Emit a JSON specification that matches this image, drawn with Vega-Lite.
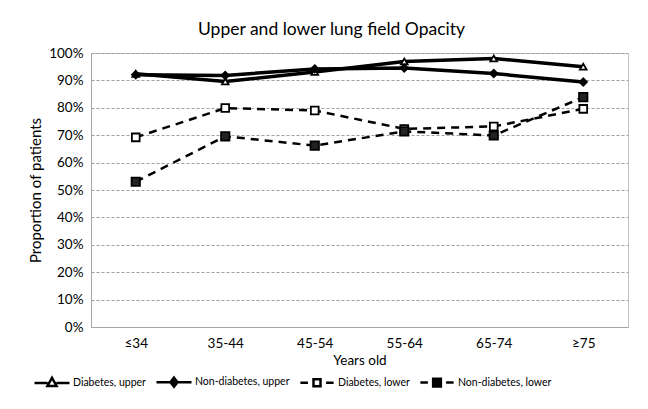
{
  "$schema": "https://vega.github.io/schema/vega-lite/v6.json",
  "width": 537,
  "height": 274,
  "autosize": {"type": "none"},
  "padding": {"left": 91, "top": 53, "right": 20, "bottom": 82},
  "background": "white",
  "title": {"text": "Upper and lower lung field Opacity", "font": "Lato", "fontSize": 17.5, "fontWeight": "normal", "color": "black", "dx": -28, "offset": 8},
  "config": {
    "font": "Lato",
    "view": {"stroke": "#C4C4C4", "strokeWidth": 1},
    "axis": {"labelFont": "Lato", "titleFont": "Lato", "labelColor": "black", "titleColor": "black", "titleFontWeight": "normal"}
  },
  "data": {"values": [
    {"age": "≤34", "series": "Diabetes, upper", "value": 0.924},
    {"age": "35-44", "series": "Diabetes, upper", "value": 0.896},
    {"age": "45-54", "series": "Diabetes, upper", "value": 0.931},
    {"age": "55-64", "series": "Diabetes, upper", "value": 0.969},
    {"age": "65-74", "series": "Diabetes, upper", "value": 0.98},
    {"age": "≥75", "series": "Diabetes, upper", "value": 0.95},
    {"age": "≤34", "series": "Non-diabetes, upper", "value": 0.921},
    {"age": "35-44", "series": "Non-diabetes, upper", "value": 0.918},
    {"age": "45-54", "series": "Non-diabetes, upper", "value": 0.942},
    {"age": "55-64", "series": "Non-diabetes, upper", "value": 0.945},
    {"age": "65-74", "series": "Non-diabetes, upper", "value": 0.925},
    {"age": "≥75", "series": "Non-diabetes, upper", "value": 0.894},
    {"age": "≤34", "series": "Diabetes, lower", "value": 0.692},
    {"age": "35-44", "series": "Diabetes, lower", "value": 0.799},
    {"age": "45-54", "series": "Diabetes, lower", "value": 0.79},
    {"age": "55-64", "series": "Diabetes, lower", "value": 0.723},
    {"age": "65-74", "series": "Diabetes, lower", "value": 0.732},
    {"age": "≥75", "series": "Diabetes, lower", "value": 0.796},
    {"age": "≤34", "series": "Non-diabetes, lower", "value": 0.53},
    {"age": "35-44", "series": "Non-diabetes, lower", "value": 0.696},
    {"age": "45-54", "series": "Non-diabetes, lower", "value": 0.662},
    {"age": "55-64", "series": "Non-diabetes, lower", "value": 0.714},
    {"age": "65-74", "series": "Non-diabetes, lower", "value": 0.699},
    {"age": "≥75", "series": "Non-diabetes, lower", "value": 0.839}
  ]},
  "encoding": {
    "x": {"field": "age", "type": "ordinal", "sort": ["≤34", "35-44", "45-54", "55-64", "65-74", "≥75"],
      "scale": {"type": "point", "padding": 0.5},
      "axis": {"title": "Years old", "labelAngle": 0, "ticks": false, "labelFontSize": 13.5, "labelPadding": 9, "titleFontSize": 13.5, "titlePadding": 4, "domainColor": "#A6A6A6", "grid": false}},
    "y": {"field": "value", "type": "quantitative",
      "scale": {"domain": [0, 1], "nice": false},
      "axis": {"title": "Proportion of patients", "format": ".0%", "values": [0, 0.1, 0.2, 0.3, 0.4, 0.5, 0.6, 0.7, 0.8, 0.9, 1], "ticks": false, "labelFontSize": 13.5, "labelPadding": 8, "titleFontSize": 15, "titlePadding": 5, "domainColor": "#A6A6A6", "gridColor": "#A0A0A0", "gridDash": [3, 2], "gridWidth": 1}}
  },
  "layer": [
    {
      "transform": [{"filter": {"field": "series", "oneOf": ["Diabetes, upper", "Non-diabetes, upper"]}}],
      "mark": {"type": "line", "color": "black", "strokeWidth": 3.5},
      "encoding": {"detail": {"field": "series"}}
    },
    {
      "transform": [{"filter": {"field": "series", "oneOf": ["Diabetes, lower", "Non-diabetes, lower"]}}],
      "mark": {"type": "line", "color": "black", "strokeWidth": 2.5, "strokeDash": [8, 6]},
      "encoding": {"detail": {"field": "series"}}
    },
    {
      "transform": [{"filter": {"field": "series", "equal": "Diabetes, upper"}}],
      "mark": {"type": "point", "shape": "triangle-up", "size": 45, "fill": "white", "stroke": "black", "strokeWidth": 1.8, "opacity": 1}
    },
    {
      "transform": [{"filter": {"field": "series", "equal": "Non-diabetes, upper"}}],
      "mark": {"type": "point", "shape": "diamond", "size": 55, "fill": "black", "stroke": "black", "strokeWidth": 1.8, "opacity": 1}
    },
    {
      "transform": [{"filter": {"field": "series", "equal": "Diabetes, lower"}}],
      "mark": {"type": "point", "shape": "square", "size": 60, "fill": "white", "stroke": "black", "strokeWidth": 1.8, "opacity": 1}
    },
    {
      "transform": [{"filter": {"field": "series", "equal": "Non-diabetes, lower"}}],
      "mark": {"type": "point", "shape": "square", "size": 70, "fill": "#222222", "stroke": "black", "strokeWidth": 1.8, "opacity": 1}
    },
    {
      "mark": {"type": "point", "opacity": 0, "stroke": "black", "strokeWidth": 2.5},
      "encoding": {
        "shape": {"field": "series", "type": "nominal",
          "scale": {"domain": ["Diabetes, upper", "Non-diabetes, upper", "Diabetes, lower", "Non-diabetes, lower"],
            "range": ["M-1,0H-0.25M0.25,0H1M0,-0.3L0.26,0.16L-0.26,0.16Z", "M-1,0H1M0,-0.26L0.2,0L0,0.26L-0.2,0Z", "M-0.95,0H-0.52M0.52,0H0.95M-0.2,-0.2H0.2V0.2H-0.2Z", "M-0.95,0H-0.52M0.52,0H0.95M-0.22,-0.22H0.22V0.22H-0.22Z"]},
          "legend": {"title": null, "orient": "none", "legendX": -58, "legendY": 310, "direction": "horizontal",
            "symbolSize": 1225, "symbolStrokeWidth": 2.5, "symbolStrokeColor": "black", "symbolOpacity": 1,
            "labelFont": "Lato", "labelFontSize": 10.5, "labelColor": "black", "labelOffset": 2, "columnPadding": 5, "symbolOffset": 0,
            "encode": {"symbols": {"update": {"stroke": {"value": "black"}, "strokeWidth": {"value": 2.5}, "strokeOpacity": {"value": 1}}}}}},
        "fill": {"field": "series", "type": "nominal",
          "scale": {"domain": ["Diabetes, upper", "Non-diabetes, upper", "Diabetes, lower", "Non-diabetes, lower"], "range": ["white", "black", "white", "black"]},
          "legend": {"title": null, "orient": "none", "legendX": -58, "legendY": 310, "direction": "horizontal",
            "symbolSize": 1225, "symbolStrokeWidth": 2.5, "symbolStrokeColor": "black", "symbolOpacity": 1,
            "labelFont": "Lato", "labelFontSize": 10.5, "labelColor": "black", "labelOffset": 2, "columnPadding": 5, "symbolOffset": 0,
            "encode": {"symbols": {"update": {"stroke": {"value": "black"}, "strokeWidth": {"value": 2.5}, "strokeOpacity": {"value": 1}}}}}}
      }
    }
  ]
}
